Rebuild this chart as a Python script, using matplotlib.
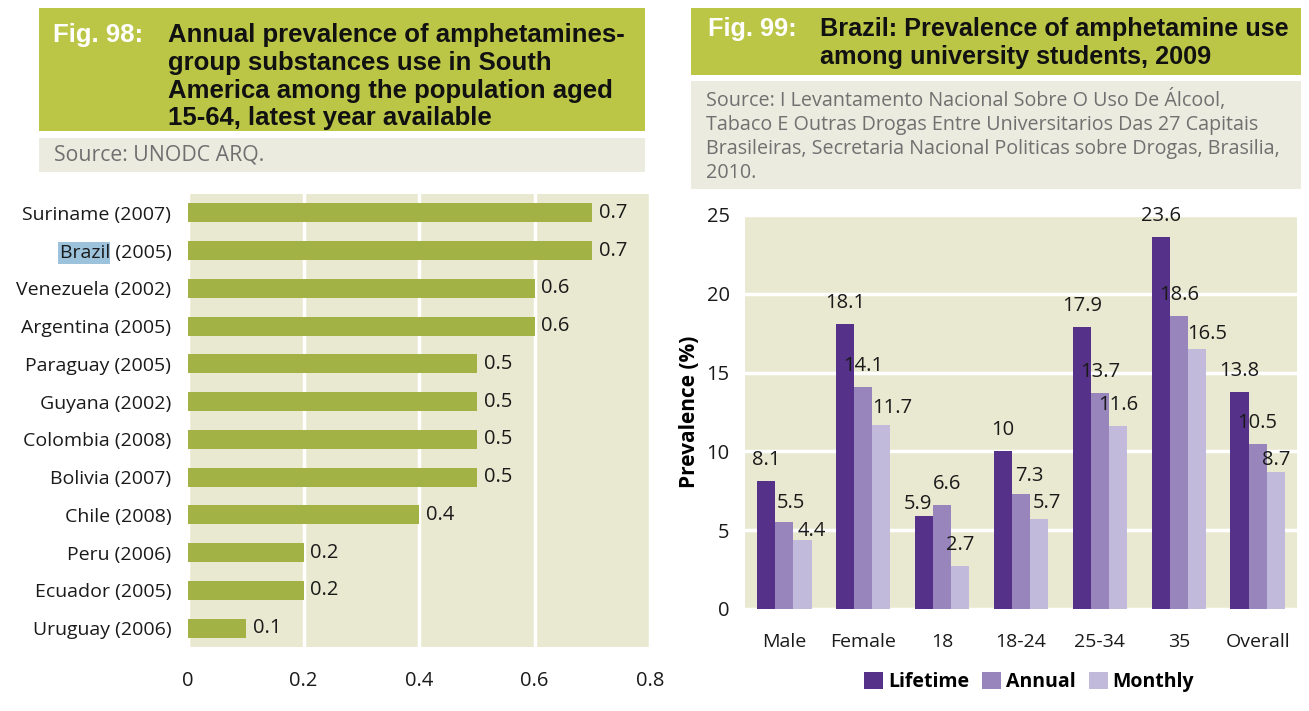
# Fig. 98 / Fig. 99 - amphetamines prevalence, South America and Brazil
import matplotlib
matplotlib.use("Agg")
import matplotlib.pyplot as plt
from matplotlib.patches import Rectangle

# data: fig 98
countries = ["Suriname (2007)", "Brazil (2005)", "Venezuela (2002)", "Argentina (2005)",
             "Paraguay (2005)", "Guyana (2002)", "Colombia (2008)", "Bolivia (2007)",
             "Chile (2008)", "Peru (2006)", "Ecuador (2005)", "Uruguay (2006)"]
prevalence = [0.7, 0.7, 0.6, 0.6, 0.5, 0.5, 0.5, 0.5, 0.4, 0.2, 0.2, 0.1]
x_ticks_98 = [0, 0.2, 0.4, 0.6, 0.8]
x_labels_98 = ["0", "0.2", "0.4", "0.6", "0.8"]

# data: fig 99
groups = ["Male", "Female", "18", "18-24", "25-34", "35", "Overall"]
lifetime = [8.1, 18.1, 5.9, 10, 17.9, 23.6, 13.8]
annual = [5.5, 14.1, 6.6, 7.3, 13.7, 18.6, 10.5]
monthly = [4.4, 11.7, 2.7, 5.7, 11.6, 16.5, 8.7]
series_names = ["Lifetime", "Annual", "Monthly"]

W, H = 1309, 711
header_green = "#bcc646"
source_bg = "#ecebdf"
plot_bg = "#e9e9d1"
bar_green = "#a3b245"
purples = ["#553189", "#9785bc", "#c1badb"]
body_font = ["Open Sans", "DejaVu Sans"]
head_font = ["Liberation Sans Narrow", "Liberation Sans", "DejaVu Sans"]
fs = 14  # body text size
txt_col = "#1a1a1a"

# hand placement of some value labels in fig 99, (series, group) -> (dx, dy) px
label_nudge = {(1, 0): (7, -2), (2, 0): (9, -12), (2, 1): (11, -4),
               (0, 2): (-6.5, -9), (1, 2): (5, 0), (1, 3): (8, -3),
               (2, 3): (8, -5), (2, 5): (10, -6), (2, 6): (0, -9)}

plt.rcParams["font.family"] = body_font

fig = plt.figure(figsize=(W / 100, H / 100), dpi=100)


def box(x0, y0, x1, y1, color):
    # rectangle given in pixel coords from top-left
    fig.add_artist(Rectangle((x0 / W, 1 - y1 / H), (x1 - x0) / W, (y1 - y0) / H,
                             transform=fig.transFigure, color=color, zorder=-5, lw=0))


def text(x, y, s, **kw):
    fig.text(x / W, 1 - y / H, s, **kw)


# headers
box(39, 8, 645, 131, header_green)
box(39, 138, 645, 172, source_bg)
box(691, 8, 1301, 75, header_green)
box(691, 81, 1301, 189, source_bg)

text(53, 23, "Fig. 98:", color="white", fontsize=18.5, fontweight="bold",
     family=head_font, va="top")
text(168, 23, "Annual prevalence of amphetamines-\ngroup substances use in South\n"
     "America among the population aged\n15-64, latest year available",
     color="#111111", fontsize=18.5, fontweight="bold", family=head_font, va="top",
     linespacing=1.2)
text(708, 17, "Fig. 99:", color="white", fontsize=18.2, fontweight="bold",
     family=head_font, va="top")
text(820, 17, "Brazil: Prevalence of amphetamine use\namong university students, 2009",
     color="#111111", fontsize=18.2, fontweight="bold", family=head_font, va="top",
     linespacing=1.2)

text(54, 155, "Source: UNODC ARQ.", color="#707070", fontsize=15.3, va="center")
text(706, 89, "Source: I Levantamento Nacional Sobre O Uso De Álcool,\n"
     "Tabaco E Outras Drogas Entre Universitarios Das 27 Capitais\n"
     "Brasileiras, Secretaria Nacional Politicas sobre Drogas, Brasilia,\n2010.",
     color="#707070", fontsize=14.2, va="top", linespacing=1.26)

# fig 98: horizontal bars
ax1 = fig.add_axes([188 / W, 1 - 647 / H, 462 / W, 453 / H])
ax1.set_facecolor(plot_bg)
ypos = list(range(len(countries)))
ax1.barh(ypos, prevalence, height=0.5, color=bar_green, zorder=3)
for y, v in zip(ypos, prevalence):
    ax1.annotate(f"{v:g}", (v, y), xytext=(5, 0), textcoords="offset points",
                 va="center", ha="left", fontsize=fs + 0.5, color=txt_col)
ax1.set_ylim(len(countries) - 0.5, -0.5)
ax1.set_xlim(0, 0.8)
ax1.set_yticks(ypos)
ax1.set_yticklabels(countries, fontsize=fs, color=txt_col)
ax1.set_xticks(x_ticks_98)
ax1.set_xticklabels(x_labels_98, fontsize=fs + 0.5, color=txt_col)
ax1.tick_params(length=0)
ax1.tick_params(axis="y", pad=12)
ax1.tick_params(axis="x", pad=17)
ax1.grid(axis="x", color="white", lw=2.5, zorder=1)
ax1.set_axisbelow(True)
for s in ax1.spines.values():
    s.set_visible(False)

# fig 99: grouped bars
ax2 = fig.add_axes([745 / W, 1 - 609 / H, 552 / W, 394 / H])
ax2.set_facecolor(plot_bg)
bw = 0.23
xs = list(range(len(groups)))
for k, (vals, name) in enumerate(zip([lifetime, annual, monthly], series_names)):
    pos = [x + (k - 1) * bw for x in xs]
    ax2.bar(pos, vals, width=bw, color=purples[k], label=name, zorder=3)
    for g, (p, v) in enumerate(zip(pos, vals)):
        dx, dy = label_nudge.get((k, g), (0, 0))
        ax2.annotate(f"{v:g}", (p, v), xytext=(dx * 0.72, (16 + dy) * 0.72),
                     textcoords="offset points", va="baseline", ha="center",
                     fontsize=fs + 0.5, color=txt_col, zorder=4)
ax2.set_xlim(-0.5, len(groups) - 0.5)
ax2.set_ylim(0, 25)
ax2.set_yticks([0, 5, 10, 15, 20, 25])
ax2.set_xticks(xs)
ax2.set_xticklabels(groups, fontsize=fs, color=txt_col)
ax2.tick_params(axis="y", labelsize=fs + 0.5, labelcolor=txt_col, pad=11)
ax2.tick_params(axis="x", pad=17)
ax2.tick_params(length=0)
ax2.grid(axis="y", color="white", lw=2.5, zorder=1)
ax2.set_axisbelow(True)
for s in ax2.spines.values():
    s.set_visible(False)
ax2.set_ylabel("Prevalence (%)", fontsize=fs + 1, fontweight="bold", labelpad=5)
ax2.legend(loc="upper center", bbox_to_anchor=(0.515, -0.115), ncol=3, frameon=False,
           prop={"weight": "bold", "size": fs, "family": body_font},
           handlelength=0.95, handleheight=0.95, handletextpad=0.25, columnspacing=0.7)

# highlight "Brazil" in the tick label
fig.canvas.draw()
r = fig.canvas.get_renderer()
lab = ax1.get_yticklabels()[1]
bb = lab.get_window_extent(r)
tmp = fig.text(0, 0, " (2005)", fontsize=fs)
suffix_w = tmp.get_window_extent(r).width
tmp.remove()
fig.add_artist(Rectangle(((bb.x0 - 2) / W, (bb.y0 - 2) / H), (bb.width - suffix_w + 2) / W,
                         (bb.height + 4) / H, transform=fig.transFigure, color="#9dc3dc",
                         zorder=-1, lw=0))

fig.savefig("out.png", dpi=100)
